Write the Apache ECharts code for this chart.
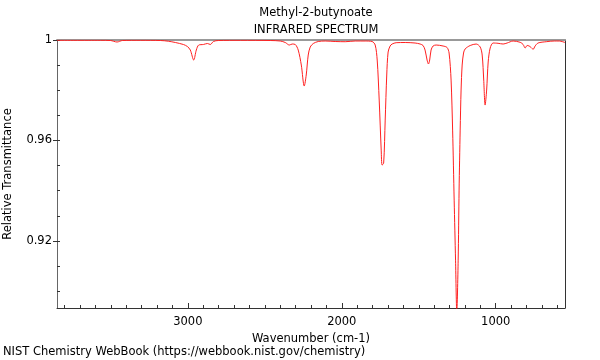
<!DOCTYPE html>
<html><head><meta charset="utf-8">
<script src="https://cdn.jsdelivr.net/npm/echarts@6/dist/echarts.min.js"></script>
<style>html,body{margin:0;padding:0;background:#fff}#c{width:600px;height:360px}</style>
</head><body><div id="c"></div>
<script>
// Wavenumber (cm-1) and relative transmittance
const wavenumbers = [3850,3568,3503,3460,3425,3308,3178,3127,3081,3029,3003,2984,2962,2945,2929,2899,2873,2854,2834,2802,2659,2465,2400,2367,2341,2322,2302,2283,2263,2244,2231,2218,2205,2185,2153,2108,2043,1978,1913,1848,1803,1783,1770,1757,1744,1738,1728,1718,1708,1699,1686,1673,1647,1588,1524,1491,1472,1459,1446,1437,1429,1420,1407,1387,1342,1316,1303,1290,1280,1270,1261,1253,1244,1238,1231,1225,1218,1209,1199,1166,1127,1101,1088,1078,1069,1059,1049,1036,1017,985,952,926,887,841,822,809,796,783,770,757,744,725,672,620,587,550];
const transmittance = [0.99988,0.99988,0.9998,0.9992,0.9998,0.99988,0.9998,0.99952,0.9990,0.99821,0.99741,0.99602,0.99203,0.99602,0.99801,0.99821,0.99861,0.99821,0.9994,0.9998,0.99988,0.9998,0.9996,0.9990,0.9980,0.9984,0.9982,0.9960,0.99004,0.98167,0.98606,0.99402,0.99721,0.99861,0.9994,0.9996,0.9994,0.99932,0.9996,0.9996,0.9994,0.9980,0.99203,0.9761,0.95618,0.9502,0.9510,0.96813,0.98606,0.99522,0.99761,0.9984,0.99892,0.9990,0.9988,0.9984,0.99781,0.9960,0.99203,0.99044,0.99203,0.9960,0.99761,0.9980,0.99761,0.99701,0.99482,0.98406,0.96414,0.93625,0.91235,0.89163,0.91235,0.94024,0.96414,0.98008,0.99004,0.99482,0.99641,0.99781,0.9984,0.99721,0.99402,0.98406,0.9741,0.98008,0.99124,0.99681,0.9988,0.99869,0.9984,0.9988,0.9996,0.99908,0.99821,0.99681,0.99781,0.99761,0.99701,0.99629,0.99761,0.9988,0.99932,0.9996,0.9996,0.9990];
const xMajorTicks = [1000,2000,3000];
const xMinorTicks = [600,700,800,900,1000,1100,1200,1300,1400,1500,1600,1700,1800,1900,2000,2100,2200,2300,2400,2500,2600,2700,2800,2900,3000,3100,3200,3300,3400,3500,3600,3700,3800];
const yMajorTicks = [0.92,0.96,1];
const yMinorTicks = [0.90,0.91,0.92,0.93,0.94,0.95,0.96,0.97,0.98,0.99,1];
const xRange = [550,3850];
const yRange = [0.8933,1];

const chart = echarts.init(document.getElementById('c'));
const font = 'DejaVu Sans';
const fs = 11.5;
const seriesData = wavenumbers.map((w,i)=>[w,transmittance[i]]);
chart.setOption({
  animation:false,
  textStyle:{fontFamily:font},
  title:{text:'Methyl-2-butynoate\nINFRARED SPECTRUM',left:311,top:0,textAlign:'center',
    textStyle:{fontFamily:font,fontSize:fs,fontWeight:'normal',color:'#000',lineHeight:17}},
  graphic:[{type:'text',left:3,top:346,style:{text:'NIST Chemistry WebBook (https://webbook.nist.gov/chemistry)',font:fs+'px "DejaVu Sans"',fill:'#000'}}],
  grid:{left:57,right:35,top:40,bottom:52,containLabel:false,outerBoundsMode:'none',show:false},
  xAxis:[{
    type:'value',inverse:true,min:xRange[0],max:xRange[1],position:'bottom',
    name:'Wavenumber (cm-1)',nameLocation:'middle',nameGap:17,
    nameTextStyle:{fontFamily:font,fontSize:fs,color:'#000'},
    axisLine:{onZero:false,lineStyle:{color:'#333',width:1}},
    axisTick:{inside:true,length:3,customValues:xMinorTicks,lineStyle:{color:'#333'}},
    axisLabel:{customValues:xMajorTicks,margin:8,color:'#000',fontFamily:font,fontSize:fs,
      formatter:v=>String(Math.round(v))},
    splitLine:{show:false}
  },{
    type:'value',inverse:true,min:xRange[0],max:xRange[1],position:'bottom',
    axisLine:{show:false},
    axisTick:{inside:true,length:5,customValues:xMajorTicks,lineStyle:{color:'#333'}},
    axisLabel:{show:false},splitLine:{show:false}
  },{
    type:'value',inverse:true,min:xRange[0],max:xRange[1],position:'top',
    axisLine:{onZero:false,lineStyle:{color:'#999',width:2}},
    axisTick:{show:false},axisLabel:{show:false},splitLine:{show:false}
  }],
  yAxis:[{
    type:'value',min:yRange[0],max:yRange[1],position:'left',
    name:'Relative Transmittance',nameLocation:'middle',nameGap:43,
    nameTextStyle:{fontFamily:font,fontSize:fs,color:'#000'},
    axisLine:{onZero:false,lineStyle:{color:'#666',width:1}},
    axisTick:{inside:true,length:3,customValues:yMinorTicks,lineStyle:{color:'#333'}},
    axisLabel:{customValues:yMajorTicks,margin:5,color:'#000',fontFamily:font,fontSize:fs,
      formatter:v=>String(+v.toFixed(2))},
    splitLine:{show:false}
  },{
    type:'value',min:yRange[0],max:yRange[1],position:'left',
    axisLine:{show:false},
    axisTick:{inside:false,length:4,customValues:yMajorTicks,lineStyle:{color:'#333'}},
    axisLabel:{show:false},splitLine:{show:false}
  },{
    type:'value',min:yRange[0],max:yRange[1],position:'right',
    axisLine:{onZero:false,lineStyle:{color:'#333',width:1}},
    axisTick:{show:false},axisLabel:{show:false},splitLine:{show:false}
  }],
  series:[{type:'line',data:seriesData,xAxisIndex:0,yAxisIndex:0,showSymbol:false,smooth:0.3,
    clip:true,lineStyle:{color:'#ff2020',width:1}}]
});
</script></body></html>
